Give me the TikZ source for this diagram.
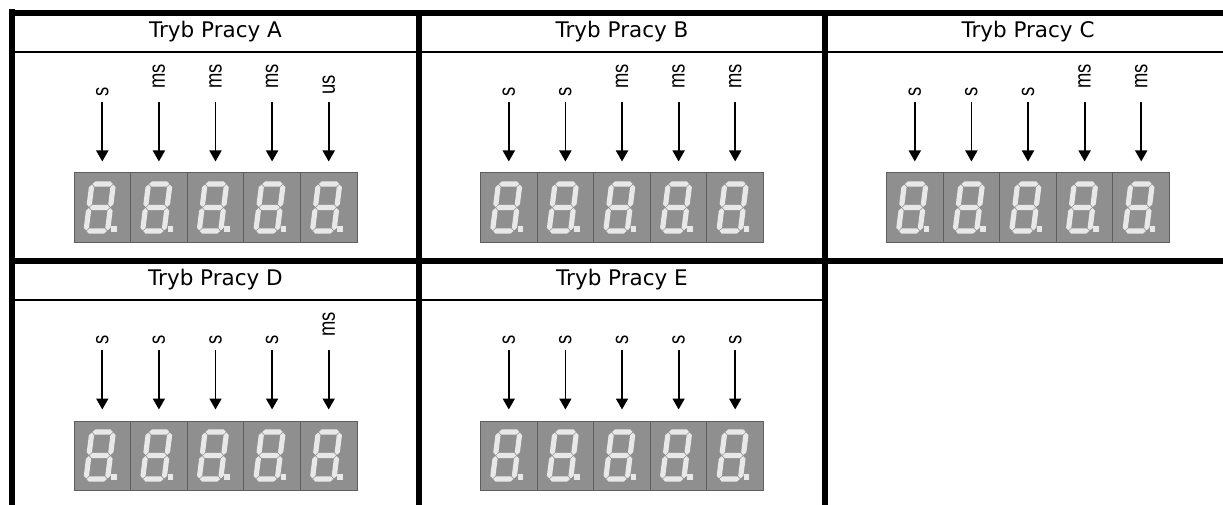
\documentclass[tikz,border=0pt]{standalone}
\usepackage{fontspec}
\usepackage{graphicx}
\setmainfont{DejaVu Sans}
\newfontfamily\lblfont{Liberation Sans}
\usetikzlibrary{arrows.meta}
\definecolor{cellgray}{HTML}{8F8F8F}
\definecolor{cellline}{HTML}{5E5E5E}
\definecolor{segcol}{HTML}{E8E8E8}
\tikzset{
 thickrule/.style={line width=6pt},
 thinrule/.style={line width=2pt},
 hdr/.style={anchor=base, inner sep=0pt, font=\fontsize{21.5}{24}\selectfont},
 unitlab/.style={rotate=90, anchor=west, inner sep=0pt, font=\lblfont\fontsize{23}{25}\selectfont},
 labs/.style={},
 labms/.style={xshift=8pt},
 labus/.style={xshift=2pt},
 arr/.style={line width=1.8pt, -{Triangle[width=12pt,length=11pt]}, shorten >=11pt},
 cell/.style={draw=cellline, line width=1pt, fill=cellgray, minimum width=56.6pt, minimum height=69pt, inner sep=0pt},
 seg/.style={fill=segcol},
}
\newcommand\hsg[3]{\fill[seg] (#1,#3) -- (#1+2.6,#3-2.6) -- (#2-2.6,#3-2.6) -- (#2,#3) -- (#2-2.6,#3+2.6) -- (#1+2.6,#3+2.6) -- cycle;}
\newcommand\vsg[3]{\fill[seg] (#1,#2) -- (#1+2.6,#2+2.6) -- (#1+2.6,#3-2.6) -- (#1,#3) -- (#1-2.6,#3-2.6) -- (#1-2.6,#2+2.6) -- cycle;}
\newcommand\digitat[2]{%
 \begin{scope}[shift={(#1,#2)}, xslant=0.125]
  \hsg{12.6}{32.9}{-47}
  \hsg{12.6}{32.9}{-23.5}
  \hsg{12.6}{32.9}{0}
  \vsg{12}{-46.4}{-24.1}
  \vsg{33.5}{-46.4}{-24.1}
  \vsg{12}{-22.9}{-0.6}
  \vsg{33.5}{-22.9}{-0.6}
 \end{scope}
 \fill[seg] (#1+37,#2-5.5) rectangle (#1+42.5,#2+0.5);
}
\newcommand\panel[8]{%
 \node[hdr] (h#3) at (#1, 37.7+#2) {Tryb Pracy #3};
 \foreach \u [count=\i] in {#4,#5,#6,#7,#8} {
   \pgfmathsetmacro\xx{#1+(\i-3)*56.6}
   \node[cell] (d#3\i) at (\xx, 207.5+#2) {};
   \digitat{\xx-28.3}{231+#2}
   \node[unitlab, lab\u] (l#3\i) at (\xx, 97+#2) {\scalebox{0.8}[1]{\u}};
   \coordinate (a#3\i) at (\xx, 102+#2);
   \draw[arr] (a#3\i) -- (d#3\i.north);
 }
}
\begin{document}
\begin{tikzpicture}[x=1pt, y=-1pt]
\useasboundingbox (0,0) rectangle (1223,505);
\draw[thickrule] (12,9) -- (12,505);
\draw[thickrule] (9,13) -- (1223,13);
\draw[thickrule] (419,10) -- (419,505);
\draw[thickrule] (825,10) -- (825,505);
\draw[thickrule] (9,261) -- (1223,261);
\draw[thinrule] (15,52) -- (1223,52);
\draw[thinrule] (15,300) -- (825,300);
\panel{215.5}{0}{A}{s}{ms}{ms}{ms}{us}
\panel{622}{0}{B}{s}{s}{ms}{ms}{ms}
\panel{1028}{0}{C}{s}{s}{s}{ms}{ms}
\panel{215.5}{248}{D}{s}{s}{s}{s}{ms}
\panel{622}{248}{E}{s}{s}{s}{s}{s}
\end{tikzpicture}
\end{document}
